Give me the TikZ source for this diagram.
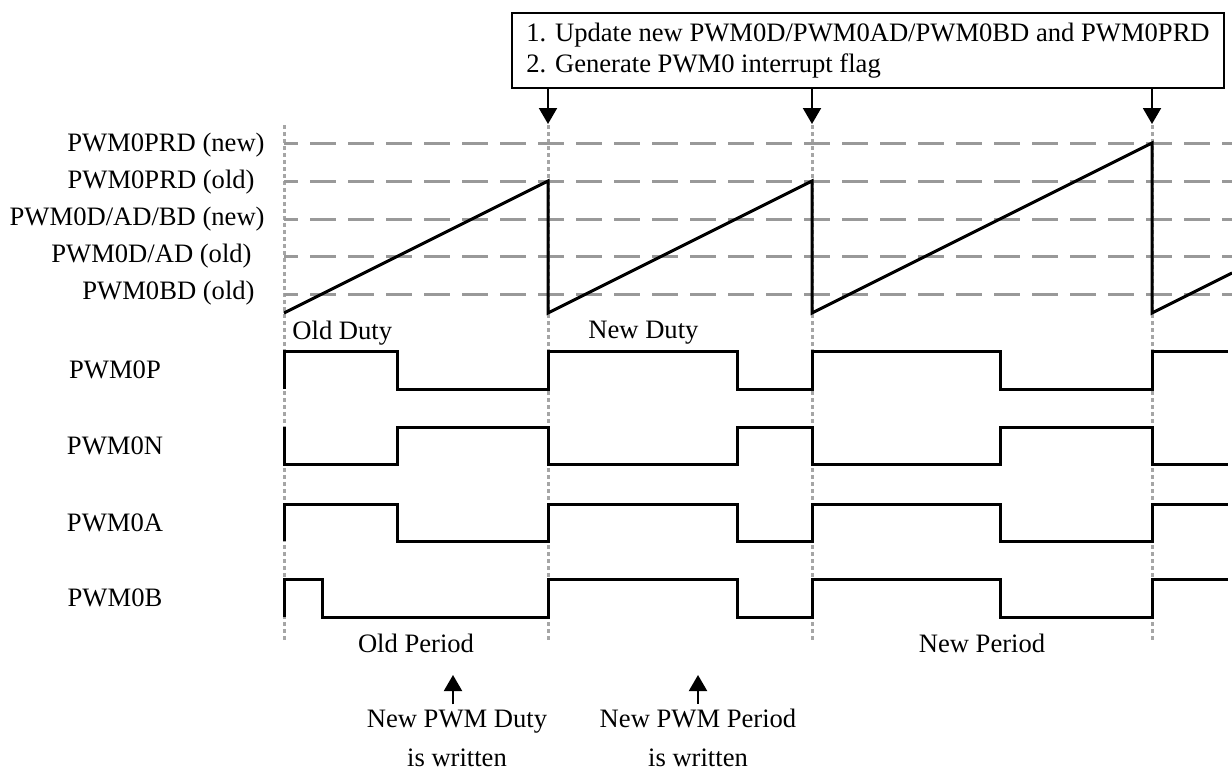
\documentclass[tikz,border=0pt]{standalone}
\usepackage{fontspec}
\setmainfont{Liberation Serif}
\usetikzlibrary{arrows.meta}
\begin{document}
\begin{tikzpicture}[x=0.5pt,y=-0.5pt,
  lbl/.style={inner sep=0pt, font=\fontsize{13.3pt}{15.5pt}\selectfont},
  sig/.style={line width=1.5pt, line join=miter},
  refline/.style={draw=gray!80, line width=1.5pt, dash pattern=on 13pt off 6pt, dash phase=6pt},
  vgrid/.style={draw=gray!70, line width=1.5pt, dash pattern=on 2pt off 1.5pt},
  arr/.style={line width=1pt, -{Triangle[width=9pt,length=8pt]}},
  boxstyle/.style={draw, line width=1pt, anchor=north west, minimum width=356pt, minimum height=37.5pt,
     inner xsep=5pt, inner ysep=0pt, align=left, font=\fontsize{13.3pt}{15.5pt}\selectfont}]
\useasboundingbox (0,0) rectangle (1232,772);

% vertical dotted guides
\foreach \x in {284,548,812,1152} \draw[vgrid] (\x,125) -- (\x,640);

% reference levels
\foreach \y in {143,181,219,256,294} \draw[refline] (284,\y) -- (1232,\y);

% labels of levels
\node[lbl, anchor=east] (lprdn) at (265,145) {PWM0PRD (new)};
\node[lbl, anchor=east] (lprdo) at (255,182) {PWM0PRD (old)};
\node[lbl, anchor=east] (ldn) at (265,219) {PWM0D/AD/BD (new)};
\node[lbl, anchor=east] (ldo) at (252,256) {PWM0D/AD (old)};
\node[lbl, anchor=east] (lbdo) at (255,293) {PWM0BD (old)};

% box and arrows
\node[boxstyle] (box) at (511,12) {1. Update new PWM0D/PWM0AD/PWM0BD and PWM0PRD\\2. Generate PWM0 interrupt flag};
\coordinate (t2) at (548,124);
\coordinate (t3) at (812,124);
\coordinate (t4) at (1152,124);
\draw[arr] (box.south -| t2) -- (t2);
\draw[arr] (box.south -| t3) -- (t3);
\draw[arr] (box.south -| t4) -- (t4);

% sawtooth
\draw[sig] (284,313) -- (548,181) -- (548,313) -- (812,181) -- (812,313) -- (1152,143) -- (1152,313) -- (1232,273);

% duty labels
\node[lbl, anchor=west] (oldduty) at (292,333) {Old Duty};
\node[lbl, anchor=west] (newduty) at (588,333) {New Duty};

% signal labels
\node[lbl] (lp) at (115,370) {PWM0P};
\node[lbl] (ln) at (115,446) {PWM0N};
\node[lbl] (la) at (115,523) {PWM0A};
\node[lbl] (lb) at (115,598) {PWM0B};

% PWM0P
\draw[sig] (284,389) -- (284,351) -- (397,351) -- (397,389) -- (548,389) -- (548,351) -- (737,351) -- (737,389) -- (812,389) -- (812,351) -- (1000,351) -- (1000,389) -- (1152,389) -- (1152,351) -- (1228,351);
% PWM0N
\draw[sig] (284,427) -- (284,464) -- (397,464) -- (397,427) -- (548,427) -- (548,464) -- (737,464) -- (737,427) -- (812,427) -- (812,464) -- (1000,464) -- (1000,427) -- (1152,427) -- (1152,464) -- (1228,464);
% PWM0A
\draw[sig] (284,541) -- (284,504) -- (397,504) -- (397,541) -- (548,541) -- (548,504) -- (737,504) -- (737,541) -- (812,541) -- (812,504) -- (1000,504) -- (1000,541) -- (1152,541) -- (1152,504) -- (1228,504);
% PWM0B
\draw[sig] (284,617) -- (284,579) -- (322,579) -- (322,617) -- (548,617) -- (548,579) -- (737,579) -- (737,617) -- (812,617) -- (812,579) -- (1000,579) -- (1000,617) -- (1152,617) -- (1152,579) -- (1228,579);

% period labels
\node[lbl] (oldper) at (416,643) {Old Period};
\node[lbl] (newper) at (982,643) {New Period};

% bottom notes
\node[lbl, align=center, font=\fontsize{13.3pt}{19.5pt}\selectfont] (dut) at (457,738) {New PWM Duty\\is written};
\node[lbl, align=center, font=\fontsize{13.3pt}{19.5pt}\selectfont] (per) at (698,738) {New PWM Period\\is written};
\coordinate (dtip) at (453,675);
\coordinate (ptip) at (698,675);
\draw[arr] ([yshift=2.5pt]dut.north -| dtip) -- (dtip);
\draw[arr] ([yshift=2.5pt]per.north -| ptip) -- (ptip);
\end{tikzpicture}
\end{document}
